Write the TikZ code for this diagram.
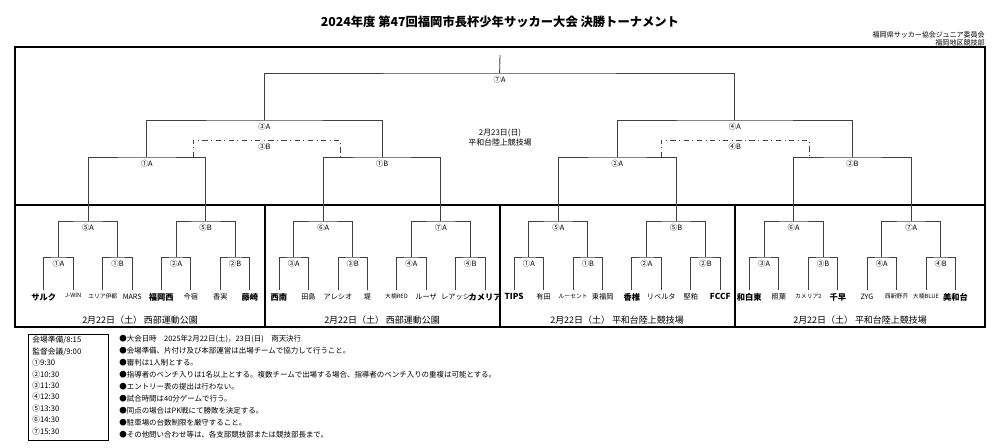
\documentclass[tikz,border=0pt]{standalone}
\usepackage{fontspec}
\setmainfont{Noto Sans CJK JP}
\usetikzlibrary{positioning}
\newcommand\wteam[1]{{\bfseries\fontsize{4.7}{5}\selectfont #1}}
\newcommand\smteam[1]{{\fontsize{3.3}{4}\selectfont #1}}
\tikzset{
  frame/.style={draw=black,line width=0.8pt},
  bline/.style={draw=black!75,line width=0.5pt},
  dline/.style={bline,dash dot},
  rnd/.style={font=\fontsize{4.2}{4.5}\selectfont,inner sep=0.4pt},
  team/.style={font=\fontsize{4.1}{4.5}\selectfont,inner sep=0.4pt},
  venue/.style={font=\fontsize{5.1}{5.5}\selectfont},
  note/.style={font=\fontsize{4.25}{6.8}\selectfont,align=left,anchor=north west,inner sep=0pt},
}
\begin{document}
\begin{tikzpicture}[x=0.02cm,y=-0.02cm]
\useasboundingbox (0,0) rectangle (1000,447);
% title
\node[font=\bfseries\fontsize{7}{8}\selectfont] (title) at (500,22) {2024年度 第47回福岡市長杯少年サッカー大会 決勝トーナメント};
\node[font=\fontsize{4}{5}\selectfont,anchor=east,inner sep=0pt] (org1) at (985,35) {福岡県サッカー協会ジュニア委員会};
\node[font=\fontsize{4}{5}\selectfont,anchor=east,inner sep=0pt] (org2) at (985,42.5) {福岡地区競技部};

% frames
\draw[frame] (15,47) rectangle (985,327);
\draw[frame] (15,205) -- (985,205);
\foreach \x in {265,500,735} \draw[frame] (\x,205) -- (\x,327);

% lower brackets
\foreach \k/\sl/\la/\lb/\ta/\tb/\tc/\td in {
  0/⑤A/①A/①B/\wteam{サルク}/\smteam{J-WIN}/\smteam{エリア伊都}/MARS,
  1/⑤B/②A/②B/\wteam{福岡西}/今宿/香実/\wteam{藤崎},
  2/⑥A/③A/③B/\wteam{西南}/田島/アレシオ/堤,
  3/⑦A/④A/④B/\smteam{大楠RED}/ルーザ/レアッシ/\wteam{カメリア},
  4/⑤A/①A/①B/\wteam{TIPS}/有田/\smteam{ルーセント}/東福岡,
  5/⑤B/②A/②B/\wteam{香椎}/リベルタ/堅粕/\wteam{FCCF},
  6/⑥A/③A/③B/\wteam{和白東}/照葉/\smteam{カメリア2}/\wteam{千早},
  7/⑦A/④A/④B/ZYG/\smteam{西新野芥}/\smteam{大楠BLUE}/\wteam{美和台}}
{
  \pgfmathsetmacro\u{88+117.6*\k}
  \coordinate (s\k) at (\u,221);
  \coordinate (p\k) at (\u-29.5,257);
  \coordinate (q\k) at (\u+29.5,257);
  \coordinate (a\k) at (\u-44.25,290);
  \coordinate (b\k) at (\u-14.75,290);
  \coordinate (c\k) at (\u+14.75,290);
  \coordinate (d\k) at (\u+44.25,290);
  \draw[bline] (p\k) |- (s\k) -| (q\k);
  \draw[bline] (a\k) |- (p\k) -| (b\k);
  \draw[bline] (c\k) |- (q\k) -| (d\k);
  \node[rnd,below=1.5pt of s\k] (ls\k) {\sl};
  \node[rnd,below=1.5pt of p\k] (lp\k) {\la};
  \node[rnd,below=1.5pt of q\k] (lq\k) {\lb};
  \node[team,below=1.5pt of a\k] (na\k) {\ta};
  \node[team,below=1.5pt of b\k] (nb\k) {\tb};
  \node[team,below=1.5pt of c\k] (nc\k) {\tc};
  \node[team,below=1.5pt of d\k] (nd\k) {\td};
}

% upper brackets
\coordinate (champ) at (500,55);
\coordinate (m7) at (499.6,73);
\coordinate (m3A) at (264.4,120);
\coordinate (m4A) at (734.8,120);
\coordinate (m3B) at (264.4,140);
\coordinate (m4B) at (734.8,140);
\coordinate (m1A) at (146.8,157);
\coordinate (m1B) at (382,157);
\coordinate (m2A) at (617.2,157);
\coordinate (m2B) at (852.4,157);
\coordinate (d1) at (193,157);
\coordinate (d2) at (340,157);
\coordinate (d3) at (661,157);
\coordinate (d4) at (809,157);
\draw[bline] (champ) -- (m7);
\draw[bline] (m3A) |- (m7) -| (m4A);
\draw[bline] (m1A) |- (m3A) -| (m1B);
\draw[bline] (m2A) |- (m4A) -| (m2B);
\draw[bline] (s0) |- (m1A) -| (s1);
\draw[bline] (s2) |- (m1B) -| (s3);
\draw[bline] (s4) |- (m2A) -| (s5);
\draw[bline] (s6) |- (m2B) -| (s7);
\draw[dline] (d1) |- (m3B) -| (d2);
\draw[dline] (d3) |- (m4B) -| (d4);
\node[rnd,below=1.5pt of m7] (l7) {⑦A};
\node[rnd,below=1.5pt of m3A] (l3A) {③A};
\node[rnd,below=1.5pt of m4A] (l4A) {④A};
\node[rnd,below=1.5pt of m3B] (l3B) {③B};
\node[rnd,below=1.5pt of m4B] (l4B) {④B};
\node[rnd,below=1.5pt of m1A] (l1A) {①A};
\node[rnd,below=1.5pt of m1B] (l1B) {①B};
\node[rnd,below=1.5pt of m2A] (l2A) {②A};
\node[rnd,below=1.5pt of m2B] (l2B) {②B};
\node[font=\fontsize{4.5}{5.7}\selectfont,align=center] (final) at (500,138) {2月23日(日)\\平和台陸上競技場};

% venues
\node[venue] (v1) at (140,320) {2月22日（土） 西部運動公園};
\node[venue] (v2) at (382,320) {2月22日（土） 西部運動公園};
\node[venue] (v3) at (617,320) {2月22日（土） 平和台陸上競技場};
\node[venue] (v4) at (860,320) {2月22日（土） 平和台陸上競技場};

% notes
\draw[line width=0.5pt] (28,334) rectangle (108,440);
\node[note,font=\fontsize{4.4}{6.5}\selectfont] (times) at (32,336) {会場準備/8:15\\監督会議/9:00\\①9:30\\②10:30\\③11:30\\④12:30\\⑤13:30\\⑥14:30\\⑦15:30};
\node[note] (rules) at (119,335) {●大会日時　2025年2月22日(土)，23日(日)　雨天決行\\
●会場準備、片付け及び本部運営は出場チームで協力して行うこと。\\
●審判は1人制とする。\\
●指導者のベンチ入りは1名以上とする。複数チームで出場する場合、指導者のベンチ入りの重複は可能とする。\\
●エントリー表の提出は行わない。\\
●試合時間は40分ゲームで行う。\\
●同点の場合はPK戦にて勝敗を決定する。\\
●駐車場の台数制限を厳守すること。\\
●その他問い合わせ等は、各支部競技部または競技部長まで。};
\end{tikzpicture}
\end{document}
